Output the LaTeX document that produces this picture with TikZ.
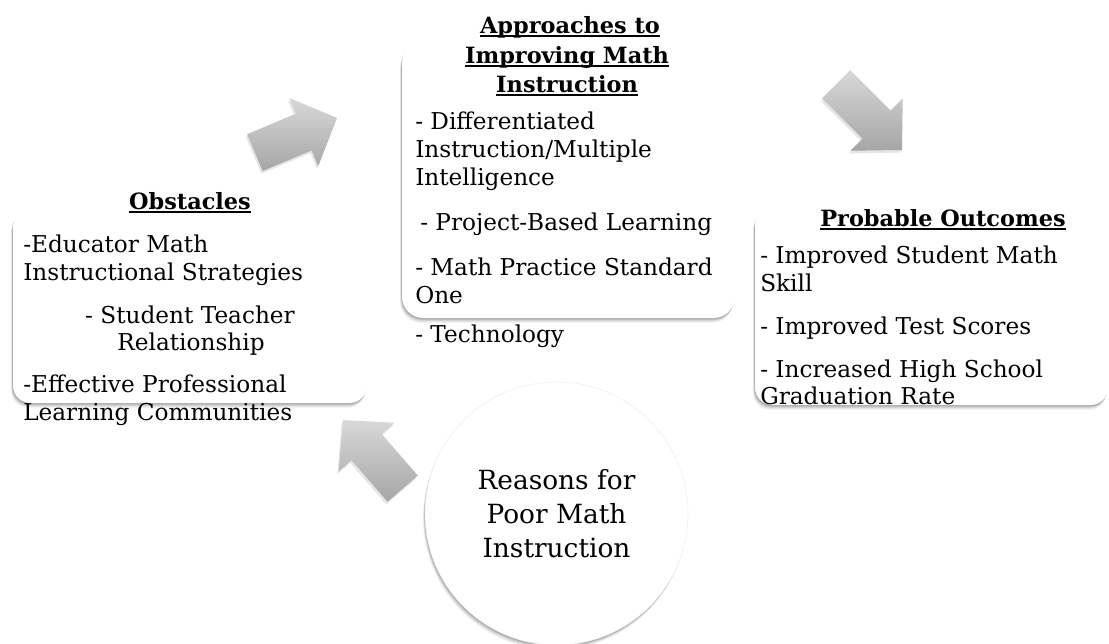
\documentclass[tikz,border=0pt]{standalone}
\usepackage{fontspec}
\setmainfont{DejaVu Serif}
\usetikzlibrary{shadows}
\definecolor{arrtop}{HTML}{D8D8D8}
\definecolor{arrbot}{HTML}{A6A6A6}
\tikzset{
  softshadow/.style={
    drop shadow={shadow xshift=-0.4pt,shadow yshift=-1.0pt,opacity=0.16,fill=black},
    drop shadow={shadow xshift=-0.8pt,shadow yshift=-2.0pt,opacity=0.11,fill=black},
    drop shadow={shadow xshift=-1.2pt,shadow yshift=-3.0pt,opacity=0.07,fill=black},
    drop shadow={shadow xshift=-1.5pt,shadow yshift=-3.8pt,opacity=0.04,fill=black}},
  boxsty/.style={rectangle, rounded corners=13pt, fill=white, inner sep=0pt, softshadow},
  circsty/.style={circle, fill=white, draw=black!6, line width=0.4pt, inner sep=0pt,
    minimum size=197.25pt, align=center, font=\fontsize{19.8}{25.5}\selectfont, softshadow},
  bodytxt/.style={font=\fontsize{17.4}{20}\selectfont, inner sep=0pt, anchor=base west},
  ctrtxt/.style={font=\fontsize{17.4}{20}\selectfont, inner sep=0pt, anchor=base},
  ttltxt/.style={font=\bfseries\fontsize{16.8}{20}\selectfont, inner sep=0pt, anchor=base},
  arrowsty/.style={top color=arrtop, bottom color=arrbot, draw=none},
  arrshadow/.style={fill=black, opacity=0.10},
  uline/.style={line width=1.2pt}
}
\newcommand\ulnode[1]{\draw[uline] ([yshift=-2.2pt]#1.base west) -- ([yshift=-2.2pt]#1.base east);}
\def\arrowA{(247.1,134.2) -- (296.0,113.6) -- (289.4,97.9) -- (337,118) -- (318.2,166.1) -- (311.6,150.4) -- (262.7,171.0) -- cycle}
\def\arrowB{(850.3,70.1) -- (890.6,110.4) -- (902.7,98.3) -- (902,150) -- (850.3,150.7) -- (862.4,138.6) -- (822.1,98.3) -- cycle}
\def\arrowC{(417.8,475.5) -- (381.7,434.0) -- (394.5,422.8) -- (343,420) -- (338.7,471.4) -- (351.5,460.2) -- (387.6,501.7) -- cycle}
\begin{document}
\begin{tikzpicture}[x=0.75pt,y=-0.75pt]
\useasboundingbox (0,0) rectangle (1109,643);
\fill[white] (0,0) rectangle (1109,643);

% ---- arrows ----
\begin{scope}[shift={(-1pt,-2pt)}]
  \fill[arrshadow] \arrowA; \fill[arrshadow] \arrowB; \fill[arrshadow] \arrowC;
\end{scope}
\path[arrowsty] \arrowA;
\path[arrowsty] \arrowB;
\path[arrowsty] \arrowC;

% ---- boxes ----
\node[boxsty, minimum width=265.5pt, minimum height=144.75pt] (obs) at (190,306.5) {};
\node[boxsty, minimum width=249.75pt, minimum height=207pt, rounded corners=16pt] (app) at (568.5,180) {};
\node[boxsty, minimum width=264.75pt, minimum height=147.75pt] (out) at (931.5,306.5) {};

% ---- circle ----
\node[circsty] (reasons) at (556.5,513.5) {Reasons for\\Poor Math\\Instruction};

% ---- Obstacles ----
\node[ttltxt] (obsT) at (190,209) {Obstacles};
\ulnode{obsT}
\node[bodytxt] (o1) at (23,252) {-Educator Math};
\node[bodytxt] (o2) at (23,280) {Instructional Strategies};
\node[ctrtxt] (o3) at (190,323) {- Student Teacher};
\node[ctrtxt] (o4) at (191,350) {Relationship};
\node[bodytxt] (o5) at (23,392) {-Effective Professional};
\node[bodytxt] (o6) at (23,420) {Learning Communities};

% ---- Approaches ----
\node[ttltxt] (aT1) at (570,33) {Approaches to};
\node[ttltxt] (aT2) at (567,63) {Improving Math};
\node[ttltxt] (aT3) at (567,92) {Instruction};
\ulnode{aT1}\ulnode{aT2}\ulnode{aT3}
\node[bodytxt] (a1) at (415,129) {- Differentiated};
\node[bodytxt] (a2) at (415,157) {Instruction/Multiple};
\node[bodytxt] (a3) at (415,185) {Intelligence};
\node[bodytxt] (a4) at (420,230) {- Project-Based Learning};
\node[bodytxt] (a5) at (415,275) {- Math Practice Standard};
\node[bodytxt] (a6) at (415,303) {One};
\node[bodytxt] (a7) at (415,342) {- Technology};

% ---- Probable Outcomes ----
\node[ttltxt] (pT) at (943,226) {Probable Outcomes};
\ulnode{pT}
\node[bodytxt] (p1) at (760,263) {- Improved Student Math};
\node[bodytxt] (p2) at (760,291) {Skill};
\node[bodytxt] (p3) at (760,334) {- Improved Test Scores};
\node[bodytxt] (p4) at (760,377) {- Increased High School};
\node[bodytxt] (p5) at (760,404) {Graduation Rate};
\end{tikzpicture}
\end{document}
